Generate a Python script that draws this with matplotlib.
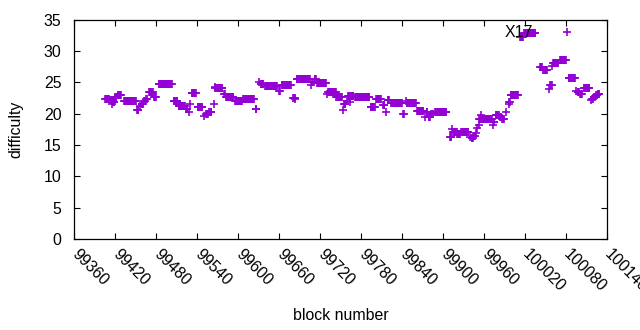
import matplotlib
matplotlib.use("Agg")
import matplotlib.pyplot as plt
import numpy as np

plt.rcParams['font.family'] = ['Liberation Sans', 'DejaVu Sans']
plt.rcParams['font.size'] = 11.4

# difficulty read off the chart as runs of consecutive blocks
# (first block, number of blocks, difficulty)
run_start = [99406, 99413, 99415, 99417, 99420, 99424, 99433, 99452, 99456, 99459,
             99463, 99466, 99470, 99477, 99484, 99506, 99513, 99524, 99528, 99530,
             99532, 99541, 99550, 99553, 99558, 99565, 99566, 99567, 99580, 99583,
             99596, 99608, 99626, 99631, 99633, 99640, 99660, 99664, 99681, 99684,
             99686, 99707, 99709, 99712, 99716, 99730, 99732, 99744, 99753, 99755,
             99759, 99761, 99764, 99765, 99771, 99794, 99802, 99812, 99817, 99819,
             99824, 99842, 99846, 99847, 99862, 99874, 99876, 99879, 99883, 99889,
             99910, 99913, 99915, 99921, 99927, 99939, 99942, 99946, 99948, 99950,
             99952, 99953, 99956, 99957, 99973, 99974, 99977, 99984, 99987, 99992,
             99996, 99997, 99999, 100013, 100019, 100042, 100047, 100055, 100057, 100060,
             100061, 100071, 100082, 100084, 100095, 100097, 100101, 100106, 100117, 100118,
             100121, 100124, 100127]
run_len = [6, 2, 1, 3, 3, 6, 18, 3, 1, 3,
           2, 2, 6, 4, 20, 6, 10, 3, 1, 1,
           7, 8, 1, 4, 4, 1, 1, 11, 2, 11,
           11, 16, 2, 1, 5, 18, 2, 14, 3, 1,
           20, 1, 2, 3, 14, 1, 12, 9, 1, 3,
           1, 3, 1, 5, 22, 7, 8, 3, 1, 3,
           17, 2, 1, 14, 10, 1, 2, 3, 3, 17,
           3, 1, 6, 5, 11, 1, 3, 2, 1, 1,
           1, 3, 1, 15, 1, 2, 6, 2, 3, 1,
           1, 2, 12, 5, 17, 4, 6, 1, 3, 1,
           9, 10, 1, 10, 1, 3, 3, 9, 1, 2,
           2, 3, 3]
run_diff = [22.4, 22.1, 21.5, 21.9, 22.6, 22.9, 22.0, 20.6, 21.2, 21.5,
            22.0, 22.4, 23.5, 22.6, 24.7, 22.0, 21.2, 20.7, 20.3, 21.5,
            23.3, 21.1, 19.6, 19.9, 20.3, 21.5, 24.3, 24.0, 23.2, 22.7,
            22.0, 22.3, 20.8, 25.1, 24.7, 24.4, 23.6, 24.5, 22.5, 22.3,
            25.45, 24.6, 25.0, 25.5, 24.8, 23.1, 23.4, 22.6, 20.6, 21.5,
            22.0, 22.8, 21.9, 22.8, 22.6, 21.0, 22.3, 21.4, 20.3, 22.1,
            21.65, 20.0, 22.0, 21.7, 20.4, 19.4, 20.3, 19.5, 20.0, 20.2,
            16.3, 17.5, 17.0, 16.7, 17.0, 16.3, 16.05, 16.4, 16.85, 17.65,
            18.2, 19.2, 19.8, 19.1, 18.2, 18.6, 19.7, 19.5, 19.1, 20.2,
            21.6, 21.9, 22.9, 32.2, 32.8, 27.4, 27.0, 23.9, 24.5, 27.6,
            28.0, 28.5, 33.0, 25.6, 23.6, 23.5, 23.1, 24.0, 22.2, 22.3,
            22.7, 23.0, 23.2]

label_text = 'X17'
label_x = 100011
label_y = 33

x_ticks = list(range(99360, 100141, 60))
y_ticks = [0, 5, 10, 15, 20, 25, 30, 35]

blocks = np.concatenate([np.arange(s, s + n) for s, n in zip(run_start, run_len)])
difficulty = np.repeat(run_diff, run_len)

fig = plt.figure(figsize=(6.4, 3.3), dpi=100)
ax = fig.add_axes([74 / 640, 1 - 239 / 330, (607 - 74) / 640, (239 - 19.5) / 330])

ax.plot(blocks, difficulty, linestyle='none', marker='+', color='#9400d3',
        markersize=5.4, markeredgewidth=1.2)

ax.text(label_x, label_y, label_text, ha='center', va='center')

ax.set_xlim(99360, 100140)
ax.set_ylim(0, 35)
ax.set_xticks(x_ticks)
ax.set_yticks(y_ticks)
ax.set_xticklabels([str(t) for t in x_ticks], rotation=-45, ha='left', va='center',
                   rotation_mode='anchor')
ax.tick_params(direction='in', top=True, right=True, length=4.5, width=0.8)
ax.tick_params(axis='x', pad=9)
ax.tick_params(axis='y', pad=9)
for sp in ax.spines.values():
    sp.set_linewidth(0.9)

fig.text(341 / 640, 1 - 315 / 330, 'block number', ha='center', va='center')
fig.text(16 / 640, 1 - 129 / 330, 'difficulty', ha='center', va='center', rotation=90)

fig.savefig('out.png', dpi=100)
